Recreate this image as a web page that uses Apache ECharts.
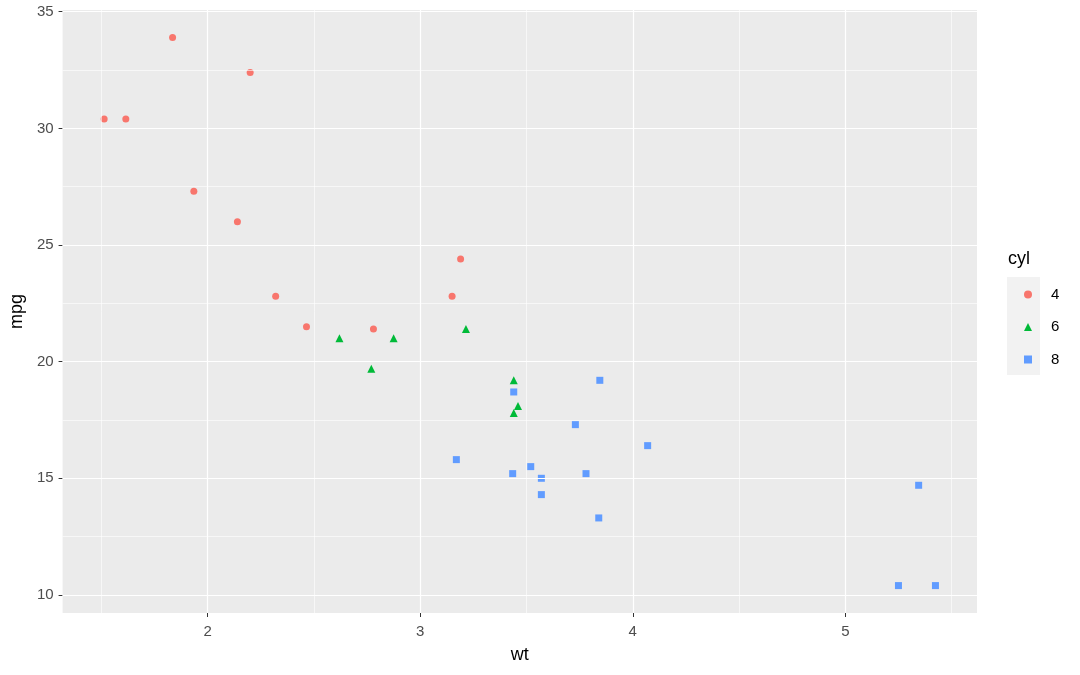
<!DOCTYPE html>
<html><head><meta charset="utf-8">
<script src="https://cdn.jsdelivr.net/npm/echarts@6/dist/echarts.min.js"></script>
<style>html,body{margin:0;padding:0;background:#fff}#c{width:1080px;height:675px}</style>
</head><body><div id="c"></div>
<script>
// mtcars: wt, mpg by cyl
const wt4 = [2.320, 3.190, 3.150, 2.200, 1.615, 1.835, 2.465, 1.935, 2.140, 1.513, 2.780];
const mpg4 = [22.8, 24.4, 22.8, 32.4, 30.4, 33.9, 21.5, 27.3, 26.0, 30.4, 21.4];
const wt6 = [2.620, 2.875, 3.215, 3.460, 3.440, 3.440, 2.770];
const mpg6 = [21.0, 21.0, 21.4, 18.1, 19.2, 17.8, 19.7];
const wt8 = [3.440, 3.570, 4.070, 3.730, 3.780, 5.250, 5.424, 5.345, 3.520, 3.435, 3.840, 3.845, 3.170, 3.570];
const mpg8 = [18.7, 14.3, 16.4, 17.3, 15.2, 10.4, 10.4, 14.7, 15.5, 15.2, 13.3, 19.2, 15.8, 15.0];
const cylLevels = ['4', '6', '8'];
const xTicks = [2, 3, 4, 5];
const yTicks = [10, 15, 20, 25, 30, 35];
const xMinor = [1.5, 2.5, 3.5, 4.5, 5.5];
const yMinor = [12.5, 17.5, 22.5, 27.5, 32.5];

const colors = ['#F8766D', '#00BA38', '#619CFF'];
const symbols = ['circle', 'triangle', 'rect'];
const sizes = [7, 8, 7];
const xs = [wt4, wt6, wt8], ys = [mpg4, mpg6, mpg8];

const xMin = 1.3175, xMax = 5.6195, yMin = 9.225, yMax = 35.075;

const gridLines = [];
xMinor.forEach(v => gridLines.push({xAxis: v, lineStyle: {width: 0.6}}));
yMinor.forEach(v => gridLines.push({yAxis: v, lineStyle: {width: 0.6}}));
xTicks.forEach(v => gridLines.push({xAxis: v, lineStyle: {width: 1.2}}));
yTicks.forEach(v => gridLines.push({yAxis: v, lineStyle: {width: 1.2}}));

const series = [{
  type: 'scatter', data: [], silent: true, z: 1,
  markLine: {silent: true, symbol: 'none', animation: false, label: {show: false},
    lineStyle: {color: '#FFFFFF', type: 'solid'}, data: gridLines}
}];
cylLevels.forEach((c, i) => {
  series.push({
    name: c, type: 'scatter', symbol: symbols[i], symbolSize: sizes[i], z: 3,
    itemStyle: {color: colors[i], opacity: 1},
    data: xs[i].map((x, j) => [x, ys[i][j]])
  });
});

const chart = echarts.init(document.getElementById('c'), null, {renderer: 'canvas'});
chart.setOption({
  animation: false,
  backgroundColor: '#FFFFFF',
  grid: {left: 62, right: 103, top: 10, bottom: 62, show: true, backgroundColor: '#EBEBEB', borderWidth: 0},
  xAxis: {
    type: 'value', min: xMin, max: xMax,
    name: 'wt', nameLocation: 'middle', nameGap: 33,
    nameTextStyle: {color: '#000', fontSize: 18, fontFamily: 'Liberation Sans'},
    axisLine: {show: false},
    axisTick: {show: true, length: 4, lineStyle: {color: '#333333', width: 1}, customValues: xTicks},
    axisLabel: {color: '#4D4D4D', fontSize: 15, margin: 11, fontFamily: 'Liberation Sans', customValues: xTicks},
    splitLine: {show: false}
  },
  yAxis: {
    type: 'value', min: yMin, max: yMax,
    name: 'mpg', nameLocation: 'middle', nameGap: 32, nameRotate: 90,
    nameTextStyle: {color: '#000', fontSize: 18, fontFamily: 'Liberation Sans'},
    axisLine: {show: false},
    axisTick: {show: true, length: 4, lineStyle: {color: '#333333', width: 1}, customValues: yTicks},
    axisLabel: {color: '#4D4D4D', fontSize: 15, margin: 9, fontFamily: 'Liberation Sans', customValues: yTicks},
    splitLine: {show: false}
  },
  legend: {
    orient: 'vertical', left: 1019, top: 282,
    data: cylLevels.map((c, i) => ({name: c, icon: symbols[i]})),
    itemWidth: 8, itemHeight: 8, itemGap: 17.5,
    textStyle: {color: '#000', fontSize: 15, fontFamily: 'Liberation Sans', padding: [0, 0, 0, 14]},
    selectedMode: false
  },
  graphic: [
    {type: 'rect', left: 1007, top: 277, shape: {width: 33, height: 98}, style: {fill: '#F2F2F2'}, z: -1},
    {type: 'text', left: 1008, top: 250, style: {text: 'cyl', fill: '#000', font: '18px "Liberation Sans"'}}
  ],
  series: series
});
</script></body></html>
